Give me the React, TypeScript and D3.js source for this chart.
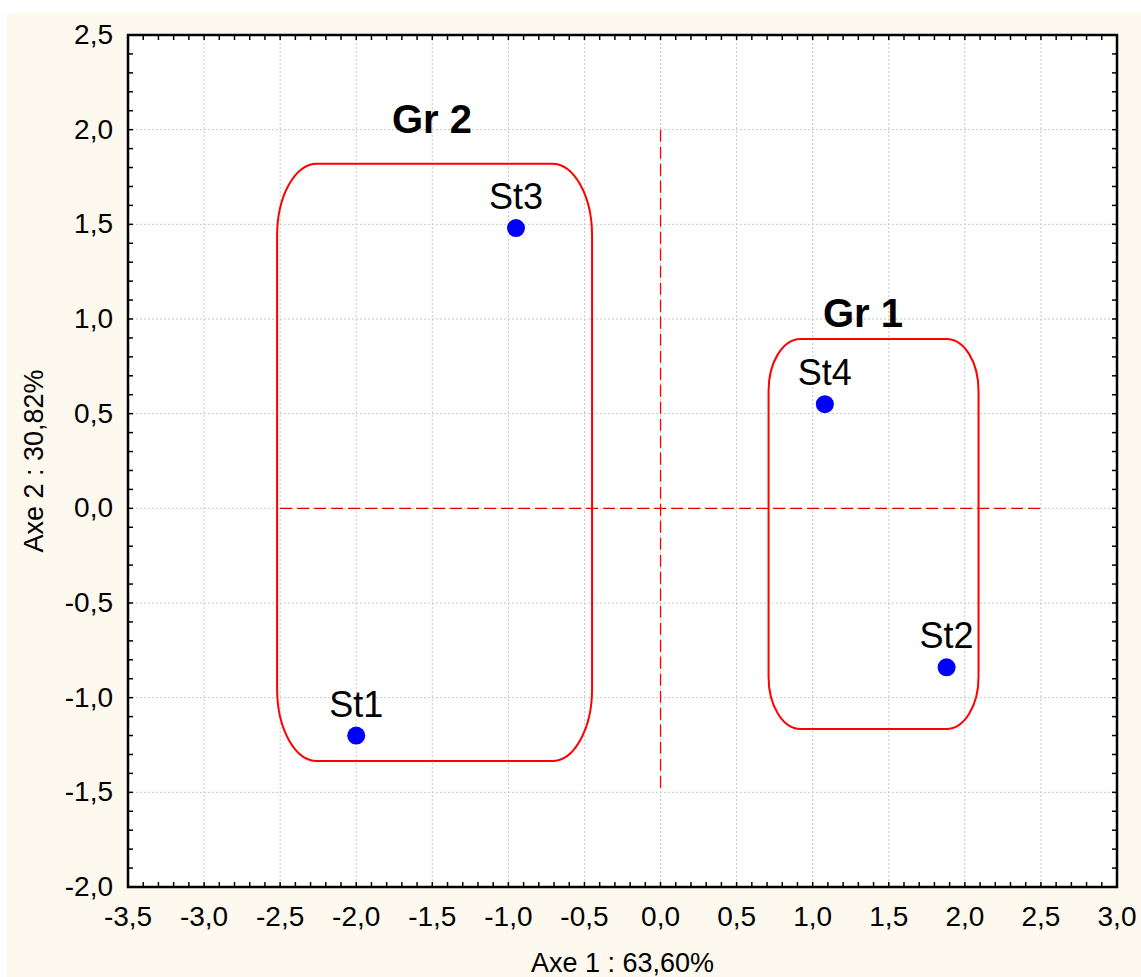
import * as d3 from 'd3';

// Data
const stations = ['St1', 'St2', 'St3', 'St4'];
const axe1 = [-2.0, 1.88, -0.95, 1.08];
const axe2 = [-1.2, -0.84, 1.48, 0.55];

const groups = ['Gr 1', 'Gr 2'];
const groupX0 = [0.71, -2.52];
const groupX1 = [2.09, -0.45];
const groupY0 = [-1.165, -1.335];
const groupY1 = [0.895, 1.82];

const xTicks = [-3.5, -3.0, -2.5, -2.0, -1.5, -1.0, -0.5, 0.0, 0.5, 1.0, 1.5, 2.0, 2.5, 3.0];
const yTicks = [-2.0, -1.5, -1.0, -0.5, 0.0, 0.5, 1.0, 1.5, 2.0, 2.5];

const width = 1141;
const height = 977;
const margin = { top: 35, right: 24, bottom: 90, left: 128 };

const fmt = (v: number) => v.toFixed(1).replace('.', ',');

export default function App() {
  const x = d3.scaleLinear().domain([-3.5, 3.0]).range([margin.left, width - margin.right]);
  const y = d3.scaleLinear().domain([-2.0, 2.5]).range([height - margin.bottom, margin.top]);
  const [xl, xr] = x.range();
  const [yb, yt] = y.range();

  const minorX = d3.range(-35, 31).map(d => d / 10);
  const minorY = d3.range(-20, 26).map(d => d / 10);

  const font = 'Arial, "Liberation Sans", sans-serif';

  // rounded box with elliptical corners
  const roundRect = (x0: number, y0: number, x1: number, y1: number, rx: number, ry: number) =>
    `M${x0 + rx},${y0} H${x1 - rx} A${rx},${ry} 0 0 1 ${x1},${y0 + ry} V${y1 - ry} A${rx},${ry} 0 0 1 ${x1 - rx},${y1} H${x0 + rx} A${rx},${ry} 0 0 1 ${x0},${y1 - ry} V${y0 + ry} A${rx},${ry} 0 0 1 ${x0 + rx},${y0} Z`;

  return (
    <svg width={width} height={height} style={{ position: 'absolute', left: 0, top: 0 }} fontFamily={font}>
      <rect x={0} y={0} width={width} height={height} fill="#fff" />
      <rect x={7} y={13} width={width - 7} height={height - 13} fill="#fef9ef" />
      <rect x={xl} y={yt} width={xr - xl} height={yb - yt} fill="#fff" />

      {/* grid */}
      {xTicks.map(t => (
        <line key={'gx' + t} x1={x(t)} x2={x(t)} y1={yt} y2={yb} stroke="#c8c8c8" strokeDasharray="2,2" />
      ))}
      {yTicks.map(t => (
        <line key={'gy' + t} x1={xl} x2={xr} y1={y(t)} y2={y(t)} stroke="#c8c8c8" strokeDasharray="2,2" />
      ))}

      {/* reference lines */}
      <line x1={x(0)} x2={x(0)} y1={y(2.0)} y2={y(-1.5)} stroke="#ff0000" strokeWidth={1.3} strokeDasharray="12,5" />
      <line x1={x(-2.5)} x2={x(2.5)} y1={y(0)} y2={y(0)} stroke="#e00000" strokeWidth={1.3} strokeDasharray="12,5" />

      {/* group boxes */}
      {groups.map((g, i) => {
        const x0 = x(groupX0[i]);
        const x1 = x(groupX1[i]);
        const y0 = y(groupY1[i]);
        const y1 = y(groupY0[i]);
        const rx = i === 0 ? 32 : 40;
        const ry = i === 0 ? 52 : 72;
        return (
          <g key={g}>
            <path d={roundRect(x0, y0, x1, y1, rx, ry)} fill="none" stroke="#ff0000" strokeWidth={2} />
            <text x={i === 0 ? 863 : 432} y={y0 - (i === 0 ? 12 : 31)} textAnchor="middle" fontSize={40} fontWeight="bold">{g}</text>
          </g>
        );
      })}

      {/* points */}
      {stations.map((s, i) => (
        <g key={s}>
          <circle cx={x(axe1[i])} cy={y(axe2[i])} r={9} fill="#0000ff" />
          <text x={x(axe1[i])} y={y(axe2[i]) - 19} textAnchor="middle" fontSize={36}>{s}</text>
        </g>
      ))}

      {/* minor ticks */}
      {minorX.map(t => (
        <g key={'mx' + t}>
          <line x1={x(t)} x2={x(t)} y1={yb} y2={yb - 5} stroke="#000" strokeWidth={1.5} />
          <line x1={x(t)} x2={x(t)} y1={yt} y2={yt + 5} stroke="#000" strokeWidth={1.5} />
        </g>
      ))}
      {minorY.map(t => (
        <g key={'my' + t}>
          <line x1={xl} x2={xl + 5} y1={y(t)} y2={y(t)} stroke="#000" strokeWidth={1.5} />
          <line x1={xr} x2={xr - 5} y1={y(t)} y2={y(t)} stroke="#000" strokeWidth={1.5} />
        </g>
      ))}

      {/* frame */}
      <rect x={xl} y={yt} width={xr - xl} height={yb - yt} fill="none" stroke="#000" strokeWidth={2.5} />

      {/* tick labels */}
      {xTicks.map(t => (
        <text key={'lx' + t} x={x(t)} y={yb + 39} textAnchor="middle" fontSize={28}>{fmt(t)}</text>
      ))}
      {yTicks.map(t => (
        <text key={'ly' + t} x={xl - 15} y={y(t) + 9} textAnchor="end" fontSize={28}>{fmt(t)}</text>
      ))}

      {/* axis titles */}
      <text x={(xl + xr) / 2} y={height - 5} textAnchor="middle" fontSize={27}>Axe 1 : 63,60%</text>
      <text transform={`translate(43,${(yt + yb) / 2}) rotate(-90)`} textAnchor="middle" fontSize={27}>Axe 2 : 30,82%</text>
    </svg>
  );
}
